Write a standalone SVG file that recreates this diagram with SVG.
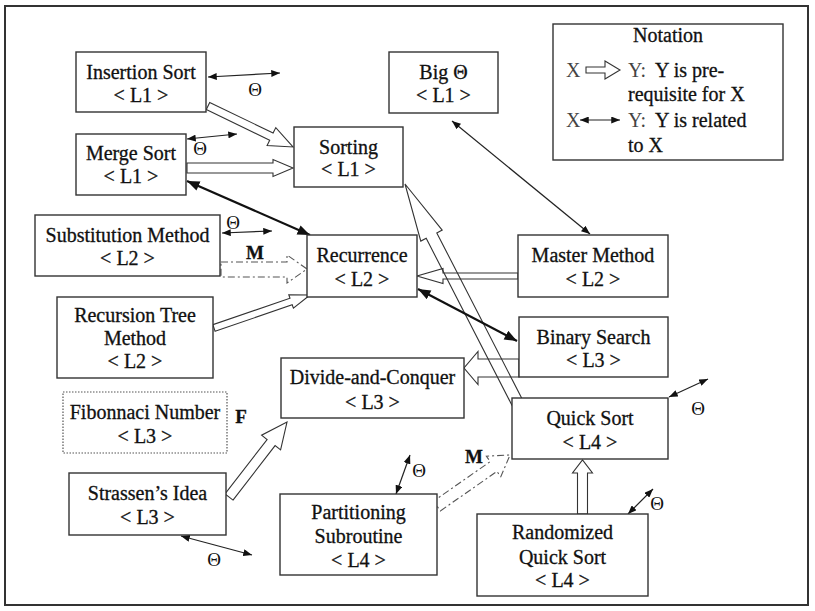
<svg xmlns="http://www.w3.org/2000/svg" width="815" height="611" viewBox="0 0 815 611">
  <style>
    text { font-family: "Liberation Serif", "Times New Roman", serif; font-size: 20px; fill: #111; stroke: #111; stroke-width: 0.3; }
    .c { text-anchor: middle; }
    .lbl { font-weight: bold; font-size: 19px; }
    .th { font-size: 19px; stroke: none; }
    .faint { fill: #444; stroke: none; }
    .box { fill: #fff; stroke: #333; stroke-width: 1.4; }
    .dotted { fill: #fff; stroke: #555; stroke-width: 1.2; stroke-dasharray: 1.5 1.5; }
    .hollow { fill: none; stroke: #333; stroke-width: 1.1; stroke-linejoin: miter; }
    .dashdot { fill: none; stroke: #555; stroke-width: 1.1; stroke-dasharray: 7 3 2 3; }
    .rel { fill: none; stroke: #222; stroke-width: 1.2; marker-start: url(#tip); marker-end: url(#tip); }
    .relB { fill: none; stroke: #111; stroke-width: 2.2; marker-start: url(#tipB); marker-end: url(#tipB); }
  </style>
  <defs>
    <marker id="tip" viewBox="0 0 10 8" refX="10" refY="4" markerWidth="9" markerHeight="7" markerUnits="userSpaceOnUse" orient="auto-start-reverse">
      <path d="M0,0 L10,4 L0,8 z" fill="#111"/>
    </marker>
    <marker id="tipB" viewBox="0 0 10 8" refX="10" refY="4" markerWidth="13" markerHeight="10" markerUnits="userSpaceOnUse" orient="auto-start-reverse">
      <path d="M0,0 L10,4 L0,8 z" fill="#111"/>
    </marker>
  </defs>

  <rect width="815" height="611" fill="#fff"/>
  <!-- outer frame -->
  <rect x="5" y="6" width="803" height="599" fill="none" stroke="#333" stroke-width="2"/>

  <g id="connectors">
    <!-- prerequisite arrows (hollow) -->
    <polygon class="hollow" points="206.3,109.6 269.7,140.2 267.1,145.6 293,147 275.8,127.6 273.1,133 209.7,102.4"/>
    <polygon class="hollow" points="187,163 273,163 273,159.5 293,168 273,176.5 273,173 187,173"/>
    <polygon class="dashdot" points="221,262 287,262 287,255 307,269 287,283 287,277 221,277"/>
    <polygon class="hollow" points="215.1,331.3 292.2,304.8 293.4,308.1 310,295 288.8,294.9 290,298.2 212.9,324.7"/>
    <polygon class="hollow" points="518,273 443,273 443,268.5 417,276 443,283.5 443,279 518,279"/>
    <polygon class="hollow" points="519,359 478,359 478,351.5 464,368 478,384.5 478,377 519,377"/>
    <polygon class="hollow" points="523.3,401.3 436.8,232.9 442.2,230.1 405,184 420.8,241.1 426.2,238.3 512.7,406.7"/>
    <polygon class="hollow" points="577.5,514 577.5,473 572.5,473 582.5,460 592.5,473 587.5,473 587.5,514"/>
    <polygon class="hollow" points="233,500.1 275.1,445.6 280.6,449.9 287,422 261.6,435.2 267.1,439.5 225,493.9"/>
    <polygon class="dashdot" points="440.4,510.9 497,471.4 500.8,476.7 510,455 486.4,456.2 490.2,461.6 433.6,501.1"/>

    <!-- related arrows (double headed) -->
    <line class="rel" x1="208" y1="77" x2="280" y2="73"/>
    <line class="rel" x1="187" y1="139" x2="237" y2="134"/>
    <line class="rel" x1="222" y1="233" x2="272" y2="231"/>
    <line class="rel" x1="452" y1="121" x2="590" y2="234"/>
    <line class="rel" x1="669" y1="397" x2="708" y2="379"/>
    <line class="rel" x1="628" y1="514" x2="653" y2="489"/>
    <line class="rel" x1="396" y1="494" x2="410" y2="455"/>
    <line class="rel" x1="181" y1="536" x2="252" y2="555"/>
    <line class="relB" x1="187" y1="181" x2="310" y2="235"/>
    <line class="relB" x1="418" y1="289" x2="517" y2="341"/>

    <!-- connector labels -->
    <text class="th c" x="255" y="96">Θ</text>
    <text class="th c" x="200" y="155">Θ</text>
    <text class="th c" x="233" y="229">Θ</text>
    <text class="th c" x="698" y="415">Θ</text>
    <text class="th c" x="657" y="510">Θ</text>
    <text class="th c" x="419" y="477">Θ</text>
    <text class="th c" x="214" y="566">Θ</text>
    <text class="lbl c" x="255" y="259">M</text>
    <text class="lbl c" x="474" y="463">M</text>
    <text class="lbl c" x="241" y="423" font-size="20">F</text>
  </g>

  <g id="insertion-sort">
    <rect class="box" x="76" y="52" width="130" height="60"/>
    <text class="c" x="141" y="79">Insertion Sort</text>
    <text class="c" x="141" y="102">&lt; L1 &gt;</text>
  </g>
  <g id="merge-sort">
    <rect class="box" x="76" y="134" width="110" height="61"/>
    <text class="c" x="131" y="160">Merge Sort</text>
    <text class="c" x="131" y="183">&lt; L1 &gt;</text>
  </g>
  <g id="sorting">
    <rect class="box" x="294" y="127" width="109" height="60"/>
    <text class="c" x="348.5" y="154">Sorting</text>
    <text class="c" x="348.5" y="176">&lt; L1 &gt;</text>
  </g>
  <g id="big-theta">
    <rect class="box" x="389" y="52" width="109" height="61"/>
    <text class="c" x="443.5" y="79">Big  Θ</text>
    <text class="c" x="443.5" y="102">&lt; L1 &gt;</text>
  </g>
  <g id="notation">
    <rect class="box" x="553" y="24" width="230" height="136"/>
    <text class="c" x="668" y="42">Notation</text>
    <text class="faint" x="566" y="77">X</text>
    <polygon class="hollow" points="586,67 605,67 605,61 620,70 605,79 605,73 586,73"/>
    <text class="faint" x="628" y="77">Y:</text>
    <text x="655" y="77">Y is pre-</text>
    <text x="628" y="101">requisite for X</text>
    <text class="faint" x="566" y="127">X</text>
    <line class="rel" x1="580" y1="120" x2="620" y2="120"/>
    <text class="faint" x="628" y="127">Y:</text>
    <text x="655" y="127">Y is related</text>
    <text x="628" y="152">to X</text>
  </g>
  <g id="substitution-method">
    <rect class="box" x="35" y="215" width="185" height="61"/>
    <text class="c" x="127.5" y="242">Substitution Method</text>
    <text class="c" x="127.5" y="265">&lt; L2 &gt;</text>
  </g>
  <g id="recurrence">
    <rect class="box" x="307" y="235" width="110" height="62"/>
    <text class="c" x="362" y="262">Recurrence</text>
    <text class="c" x="362" y="286">&lt; L2 &gt;</text>
  </g>
  <g id="master-method">
    <rect class="box" x="518" y="235" width="150" height="62"/>
    <text class="c" x="593" y="262">Master Method</text>
    <text class="c" x="593" y="286">&lt; L2 &gt;</text>
  </g>
  <g id="recursion-tree-method">
    <rect class="box" x="57" y="297" width="156" height="81"/>
    <text class="c" x="135" y="322">Recursion Tree</text>
    <text class="c" x="135" y="345">Method</text>
    <text class="c" x="135" y="368">&lt; L2 &gt;</text>
  </g>
  <g id="binary-search">
    <rect class="box" x="519" y="317" width="149" height="60"/>
    <text class="c" x="593.5" y="344">Binary Search</text>
    <text class="c" x="593.5" y="367">&lt; L3 &gt;</text>
  </g>
  <g id="divide-and-conquer">
    <rect class="box" x="281" y="358" width="183" height="60"/>
    <text class="c" x="372.5" y="384">Divide-and-Conquer</text>
    <text class="c" x="372.5" y="409">&lt; L3 &gt;</text>
  </g>
  <g id="fibonacci-number">
    <rect class="dotted" x="63" y="392" width="164" height="61"/>
    <text class="c" x="145" y="419">Fibonnaci Number</text>
    <text class="c" x="145" y="443">&lt; L3 &gt;</text>
  </g>
  <g id="quick-sort">
    <rect class="box" x="512" y="398" width="156" height="61"/>
    <text class="c" x="590" y="425">Quick Sort</text>
    <text class="c" x="590" y="449">&lt; L4 &gt;</text>
  </g>
  <g id="strassens-idea">
    <rect class="box" x="69" y="473" width="157" height="62"/>
    <text class="c" x="147.5" y="500">Strassen’s Idea</text>
    <text class="c" x="147.5" y="524">&lt; L3 &gt;</text>
  </g>
  <g id="partitioning-subroutine">
    <rect class="box" x="280" y="494" width="157" height="81"/>
    <text class="c" x="358.5" y="519">Partitioning</text>
    <text class="c" x="358.5" y="543">Subroutine</text>
    <text class="c" x="358.5" y="567">&lt; L4 &gt;</text>
  </g>
  <g id="randomized-quick-sort">
    <rect class="box" x="477" y="514" width="171" height="82"/>
    <text class="c" x="562.5" y="539">Randomized</text>
    <text class="c" x="562.5" y="564">Quick Sort</text>
    <text class="c" x="562.5" y="587">&lt; L4 &gt;</text>
  </g>
</svg>
